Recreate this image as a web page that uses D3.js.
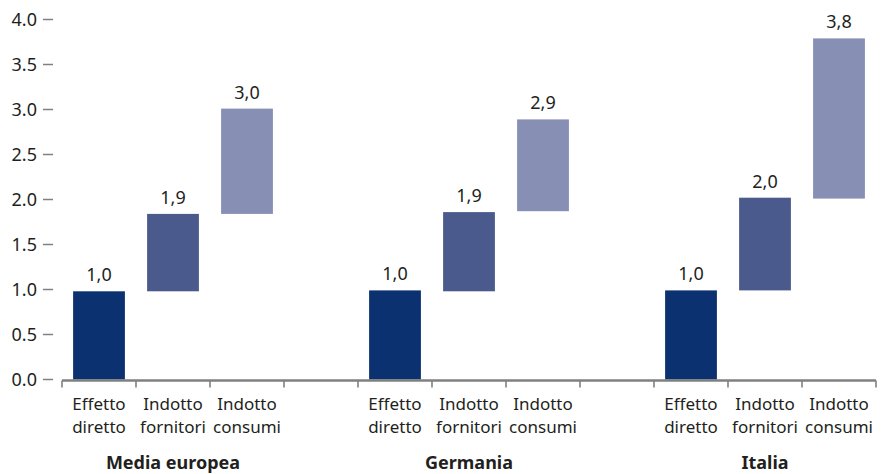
<!DOCTYPE html>
<html><head><meta charset="utf-8">
<script src="https://cdn.jsdelivr.net/npm/d3@7"></script>
<style>
body{margin:0;background:#fff;}
svg{display:block;font-family:"Noto Sans",sans-serif;}
</style></head>
<body><svg id="c" width="881" height="474"></svg>
<script>
const groups = ["Media europea", "Germania", "Italia"];
const components = [["Effetto", "diretto"], ["Indotto", "fornitori"], ["Indotto", "consumi"]];
// bar start (bottom) and end (top) per group, for each component
const directStart = [0, 0, 0];
const directEnd = [0.98, 0.99, 0.99];
const suppliersStart = [0.98, 0.98, 0.99];
const suppliersEnd = [1.84, 1.86, 2.02];
const consumptionStart = [1.84, 1.87, 2.01];
const consumptionEnd = [3.01, 2.89, 3.79];
const directLabels = ["1,0", "1,0", "1,0"];
const suppliersLabels = ["1,9", "1,9", "2,0"];
const consumptionLabels = ["3,0", "2,9", "3,8"];
const yTicks = [0, 0.5, 1, 1.5, 2, 2.5, 3, 3.5, 4];
const colors = ["#0b3170", "#4a5a8c", "#878fb5"];

const svg = d3.select("#c");
const textColor = "#231f20";
const axisColor = "#808080";

// 11 slots: 3 bars + gap, 3 bars + gap, 3 bars
const slots = [];
groups.forEach((g, gi) => {
  components.forEach((c, ci) => slots.push(`${gi}-${ci}`));
  if (gi < groups.length - 1) slots.push(`${gi}-gap`);
});
const x = d3.scaleBand().domain(slots).range([62, 876]).padding(0);
const y = d3.scaleLinear().domain([0, 4]).range([379.5, 19.5]);
const barPad = 0.15;

const starts = [directStart, suppliersStart, consumptionStart];
const ends = [directEnd, suppliersEnd, consumptionEnd];
const labels = [directLabels, suppliersLabels, consumptionLabels];
const bars = [];
groups.forEach((g, gi) => components.forEach((c, ci) => bars.push({
  key: `${gi}-${ci}`, ci, start: starts[ci][gi], end: ends[ci][gi], label: labels[ci][gi]
})));

// Y axis ticks and labels
const yg = svg.append("g");
yg.selectAll("line").data(yTicks).join("line")
  .attr("x1", 43).attr("x2", 53)
  .attr("y1", d => y(d)).attr("y2", d => y(d))
  .attr("stroke", axisColor).attr("stroke-width", 1.5);
yg.selectAll("text").data(yTicks).join("text")
  .attr("x", 37).attr("y", d => y(d)).attr("dy", "0.35em")
  .attr("text-anchor", "end").attr("font-size", 18).attr("fill", textColor)
  .text(d => d3.format(".1f")(d));

// Bars
svg.append("g").selectAll("rect").data(bars).join("rect")
  .attr("x", d => x(d.key) + x.step() * barPad)
  .attr("width", x.step() * (1 - 2 * barPad))
  .attr("y", d => y(d.end))
  .attr("height", d => y(d.start) - y(d.end))
  .attr("fill", d => colors[d.ci]);

// Value labels
svg.append("g").selectAll("text").data(bars).join("text")
  .attr("x", d => x(d.key) + x.step() / 2)
  .attr("y", d => y(d.end) - 10)
  .attr("text-anchor", "middle").attr("font-size", 18).attr("fill", textColor)
  .text(d => d.label);

// X axis line and ticks
const x0 = x.range()[0], x1 = x.range()[1];
const boundaries = slots.map(s => x(s)).concat([x1]);
svg.append("line").attr("x1", x0).attr("x2", x1).attr("y1", y(0) + 1).attr("y2", y(0) + 1)
  .attr("stroke", axisColor).attr("stroke-width", 2.6);
svg.append("g").selectAll("line").data(boundaries).join("line")
  .attr("x1", d => d).attr("x2", d => d)
  .attr("y1", y(0) + 1).attr("y2", y(0) + 8)
  .attr("stroke", axisColor).attr("stroke-width", 1.6);

// Category labels (one text per line)
const catG = svg.append("g");
bars.forEach(b => {
  components[b.ci].forEach((line, li) => {
    catG.append("text")
      .attr("x", x(b.key) + x.step() / 2).attr("y", 410 + li * 23.3)
      .attr("text-anchor", "middle").attr("font-size", 17).attr("fill", textColor)
      .text(line);
  });
});

// Group labels
svg.append("g").selectAll("text").data(groups).join("text")
  .attr("x", (d, gi) => x(`${gi}-1`) + x.step() / 2)
  .attr("y", 469)
  .attr("text-anchor", "middle").attr("font-size", 18).attr("font-weight", "bold")
  .attr("fill", textColor)
  .text(d => d);
</script></body></html>
